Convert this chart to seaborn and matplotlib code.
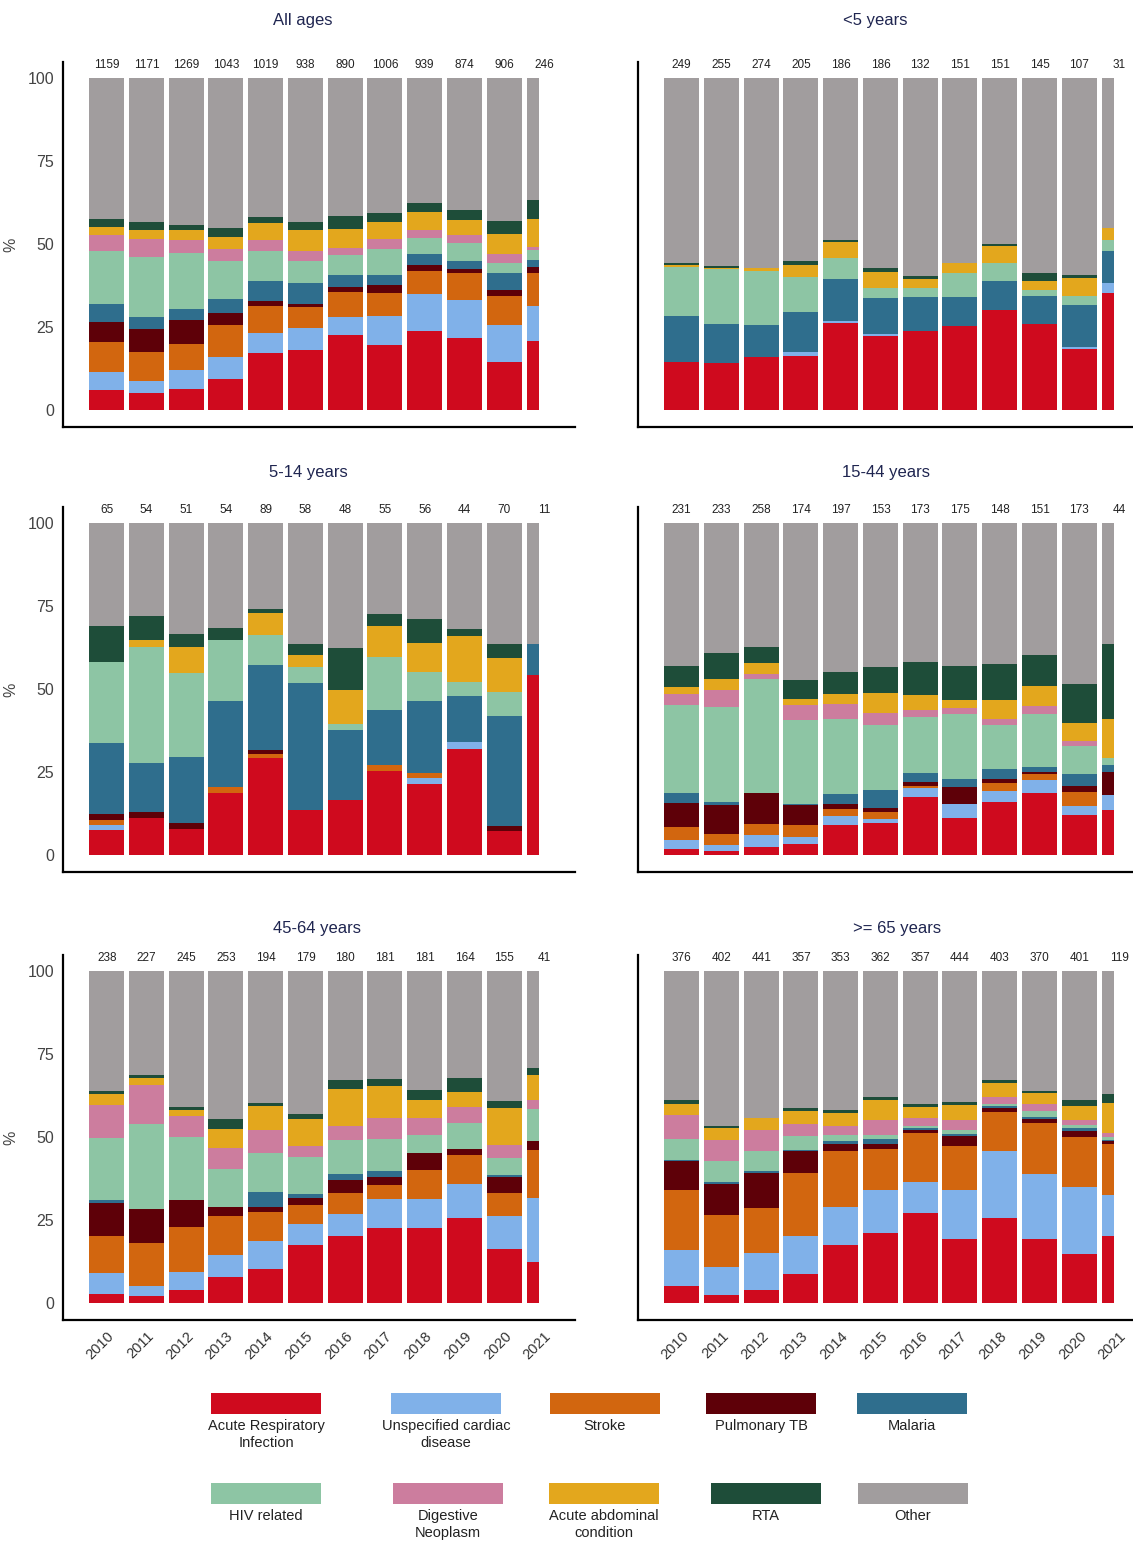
import numpy as np
import pandas as pd
import matplotlib
matplotlib.use("Agg")
import matplotlib.pyplot as plt
import seaborn as sns
from matplotlib.patches import Rectangle

# --- data: % of deaths by cause, per year, per age group ---
years = [str(y) for y in range(2010, 2022)]

causes = ["Acute Respiratory\nInfection", "Unspecified cardiac\ndisease", "Stroke",
          "Pulmonary TB", "Malaria", "HIV related", "Digestive\nNeoplasm",
          "Acute abdominal\ncondition", "RTA", "Other"]
colors = ["#cf0a1e", "#80b1e9", "#d2660f", "#5e0008", "#2f6e8d",
          "#8dc5a4", "#cc7d9e", "#e3a71d", "#1e4d39", "#a19d9e"]

# rows follow `causes`, columns follow `years`
all_ages = [
    [6.0, 5.0, 6.4, 9.5, 17.3, 18.1, 22.6, 19.6, 23.8, 21.8, 14.4, 20.8],
    [5.6, 3.8, 5.7, 6.4, 5.8, 6.5, 5.5, 8.7, 11.1, 11.2, 11.1, 10.6],
    [8.8, 8.6, 7.8, 9.7, 8.3, 6.4, 7.4, 6.9, 7.1, 8.2, 8.7, 9.8],
    [6.2, 6.9, 7.2, 3.7, 1.3, 1.0, 1.5, 2.5, 1.7, 1.2, 2.0, 1.8],
    [5.3, 3.8, 3.3, 4.2, 6.2, 6.2, 3.7, 3.0, 3.3, 2.5, 5.0, 2.2],
    [16.0, 17.9, 17.0, 11.5, 9.1, 6.7, 6.0, 7.8, 4.8, 5.4, 3.2, 3.0],
    [4.9, 5.6, 3.9, 3.4, 3.2, 3.1, 2.0, 3.0, 2.3, 2.3, 2.5, 1.0],
    [2.3, 2.5, 2.8, 3.7, 5.0, 6.1, 5.9, 5.2, 5.4, 4.5, 6.1, 8.3],
    [2.5, 2.4, 1.5, 2.7, 1.9, 2.4, 3.7, 2.6, 2.8, 3.2, 3.8, 5.8],
    [42.4, 43.5, 44.4, 45.2, 41.9, 43.5, 41.7, 40.7, 37.7, 39.7, 43.2, 36.7],
]
under5 = [
    [14.6, 14.3, 16.1, 16.3, 26.3, 22.3, 23.8, 25.3, 30.2, 25.8, 18.3, 35.2],
    [0, 0, 0, 1.1, 0.5, 0.5, 0, 0, 0, 0, 0.8, 3.2],
    [0, 0, 0, 0, 0, 0, 0, 0, 0, 0, 0, 0],
    [0, 0, 0, 0, 0, 0, 0, 0, 0, 0, 0, 0],
    [13.8, 11.6, 9.5, 12.0, 12.6, 10.8, 10.1, 8.7, 8.6, 8.4, 12.4, 9.6],
    [14.8, 16.5, 16.3, 10.8, 6.3, 3.1, 2.8, 7.2, 5.4, 2.0, 2.7, 3.3],
    [0, 0, 0, 0, 0, 0, 0, 0, 0, 0, 0, 0],
    [0.4, 0.3, 1.0, 3.4, 4.9, 5.0, 2.9, 3.2, 5.2, 2.8, 5.7, 3.4],
    [0.6, 0.7, 0, 1.4, 0.6, 1.0, 0.9, 0, 0.7, 2.2, 0.8, 0],
    [55.8, 56.6, 57.1, 55.0, 48.8, 57.3, 59.5, 55.6, 49.9, 58.8, 59.3, 45.3],
]
age5_14 = [
    [7.5, 11.2, 7.7, 18.6, 29.1, 13.5, 16.5, 25.4, 21.4, 31.8, 7.3, 54.2],
    [1.5, 0, 0, 0, 0, 0, 0, 0, 1.7, 2.3, 0, 0],
    [1.5, 0, 0, 1.8, 1.2, 0, 0, 1.7, 1.7, 0, 0, 0],
    [1.8, 1.8, 2.1, 0, 1.3, 0, 0, 0, 0, 0, 1.4, 0],
    [21.5, 14.8, 19.8, 25.9, 25.6, 38.2, 21.1, 16.5, 21.6, 13.7, 33.2, 9.2],
    [24.4, 34.9, 25.3, 18.4, 9.0, 5.0, 2.0, 16.1, 8.8, 4.2, 7.2, 0],
    [0, 0, 0, 0, 0, 0, 0, 0, 0, 0, 0, 0],
    [0, 2.0, 7.8, 0, 6.7, 3.5, 10.2, 9.3, 8.8, 13.9, 10.3, 0],
    [10.8, 7.3, 3.8, 3.7, 1.1, 3.3, 12.6, 3.5, 7.2, 2.1, 4.1, 0],
    [31.0, 28.0, 33.5, 31.6, 26.0, 36.5, 37.6, 27.5, 28.8, 32.0, 36.5, 36.6],
]
age15_44 = [
    [1.7, 1.2, 2.5, 3.3, 9.0, 9.7, 17.4, 11.3, 16.0, 18.6, 12.0, 13.5],
    [2.8, 1.7, 3.5, 2.2, 2.7, 1.3, 2.7, 4.0, 3.4, 4.0, 2.7, 4.6],
    [4.0, 3.3, 3.5, 3.5, 2.3, 2.0, 0.7, 0, 2.2, 1.7, 4.4, 0],
    [7.3, 8.8, 9.1, 6.0, 1.5, 1.2, 1.1, 5.3, 1.4, 0.8, 1.7, 6.8],
    [2.8, 1.0, 0, 0.3, 2.9, 5.4, 2.9, 2.2, 2.8, 1.5, 3.5, 2.2],
    [26.7, 28.6, 34.3, 25.5, 22.7, 19.5, 16.8, 19.6, 13.3, 15.8, 8.5, 2.2],
    [3.2, 5.2, 1.5, 4.5, 4.5, 3.7, 2.2, 2.0, 2.0, 2.5, 1.6, 0],
    [2.0, 3.2, 3.3, 1.8, 3.0, 6.0, 4.5, 2.4, 5.5, 6.0, 5.5, 11.6],
    [6.5, 7.7, 5.0, 5.6, 6.6, 7.9, 9.9, 10.2, 10.8, 9.3, 11.5, 22.5],
    [43.0, 39.3, 37.3, 47.3, 44.8, 43.3, 41.8, 43.0, 42.6, 39.8, 48.6, 36.6],
]
age45_64 = [
    [2.8, 2.0, 4.0, 7.8, 10.3, 17.4, 20.1, 22.7, 22.7, 25.7, 16.4, 12.3],
    [6.3, 3.1, 5.3, 6.8, 8.3, 6.5, 6.6, 8.5, 8.5, 10.0, 9.8, 19.3],
    [11.0, 13.0, 13.6, 11.6, 8.8, 5.5, 6.5, 4.4, 9.0, 8.8, 7.0, 14.6],
    [10.0, 10.3, 8.2, 2.7, 1.5, 2.3, 4.0, 2.4, 5.1, 1.8, 4.8, 2.6],
    [0.8, 0, 0, 0, 4.5, 1.0, 1.6, 1.7, 0, 0, 0.5, 0],
    [18.8, 25.6, 18.9, 11.6, 11.8, 11.3, 10.2, 9.8, 5.4, 7.9, 5.3, 9.7],
    [9.8, 11.6, 6.3, 6.3, 6.8, 3.3, 4.3, 6.2, 5.0, 4.8, 3.7, 2.5],
    [3.4, 2.3, 1.9, 5.7, 7.3, 8.0, 11.3, 9.6, 5.5, 4.4, 11.3, 7.6],
    [0.9, 0.9, 0.8, 3.0, 0.9, 1.7, 2.7, 2.1, 2.9, 4.4, 1.9, 2.2],
    [36.2, 31.2, 41.0, 44.5, 39.8, 43.0, 32.7, 32.6, 35.9, 32.2, 39.3, 29.2],
]
age65_plus = [
    [5.0, 2.5, 4.0, 8.6, 17.6, 21.2, 27.2, 19.4, 25.7, 19.2, 14.9, 20.2],
    [10.9, 8.3, 11.2, 11.6, 11.3, 12.9, 9.2, 14.7, 20.1, 19.8, 20.1, 12.2],
    [18.2, 15.6, 13.4, 19.1, 16.9, 12.4, 14.8, 13.2, 11.7, 15.2, 15.0, 15.4],
    [8.7, 9.5, 10.7, 6.5, 2.2, 1.3, 0.8, 3.0, 1.3, 1.3, 1.8, 0.9],
    [0.4, 0.5, 0.5, 0.4, 0.8, 1.5, 0.8, 0.5, 0.4, 0.5, 0.9, 0.5],
    [6.3, 6.4, 6.0, 4.1, 1.7, 1.2, 0.5, 1.2, 0.6, 1.8, 0.8, 0.8],
    [7.0, 6.2, 6.4, 3.7, 2.8, 4.5, 2.5, 3.0, 2.2, 2.0, 1.5, 1.2],
    [3.5, 3.7, 3.5, 3.7, 4.0, 6.2, 3.2, 4.7, 4.3, 3.3, 4.3, 9.1],
    [1.0, 0.7, 0, 1.0, 0.7, 0.8, 1.0, 0.8, 0.8, 0.7, 1.7, 2.7],
    [39.0, 46.6, 44.3, 41.3, 42.0, 38.0, 40.0, 39.5, 32.9, 36.2, 39.0, 37.0],
]

counts_all = [1159, 1171, 1269, 1043, 1019, 938, 890, 1006, 939, 874, 906, 246]
counts_u5 = [249, 255, 274, 205, 186, 186, 132, 151, 151, 145, 107, 31]
counts_5_14 = [65, 54, 51, 54, 89, 58, 48, 55, 56, 44, 70, 11]
counts_15_44 = [231, 233, 258, 174, 197, 153, 173, 175, 148, 151, 173, 44]
counts_45_64 = [238, 227, 245, 253, 194, 179, 180, 181, 181, 164, 155, 41]
counts_65 = [376, 402, 441, 357, 353, 362, 357, 444, 403, 370, 401, 119]

panels = [
    ("All ages", all_ages, counts_all),
    ("<5 years", under5, counts_u5),
    ("5-14 years", age5_14, counts_5_14),
    ("15-44 years", age15_44, counts_15_44),
    ("45-64 years", age45_64, counts_45_64),
    (">= 65 years", age65_plus, counts_65),
]

# --- style ---
sns.set_theme(style="white")
plt.rcParams["font.family"] = ["Liberation Sans", "DejaVu Sans"]

W, H = 1133, 1541
fig = plt.figure(figsize=(W / 100, H / 100), dpi=100)

# axes boxes in pixels: left x, top y (width/height shared)
ax_w, ax_h = 512, 365
col_x = [63, 638]
row_top = [62, 507, 955]
title_pos = [(303, 20), (875, 20), (308, 473), (886, 473), (317, 929), (897, 929)]

BAR_W = 0.88
LAST_W = 0.31  # 2021 only partly covered

for k, (title, values, counts) in enumerate(panels):
    r, c = divmod(k, 2)
    left = col_x[c] / W
    bottom = 1 - (row_top[r] + ax_h) / H
    ax = fig.add_axes([left, bottom, ax_w / W, ax_h / H])

    df = pd.DataFrame(np.array(values), index=causes, columns=years)
    cum = df.cumsum(axis=0)

    # draw tallest (cumulative) layer first so lower ones sit on top
    for cause, col in zip(causes[::-1], colors[::-1]):
        sns.barplot(x=years, y=cum.loc[cause].values, color=col, saturation=1,
                    width=BAR_W, errorbar=None, ax=ax, linewidth=0)

    for p in ax.patches:
        if p.get_x() > len(years) - 1.5:
            p.set_width(LAST_W)

    for i, n in enumerate(counts):
        ax.text(i, 104.0, str(n), ha="center", va="center", fontsize=8.5,
                color="#222222", clip_on=False)

    ax.set_xlim(-1.1, 11.78)
    ax.set_ylim(-5.1, 104.8)
    ax.set_yticks([0, 25, 50, 75, 100])
    ax.set_xlabel("")
    ax.set_ylabel("")
    sns.despine(ax=ax)
    for s in ["left", "bottom"]:
        ax.spines[s].set_color("black")
        ax.spines[s].set_linewidth(1.6)
    ax.tick_params(axis="both", length=3, width=0.8, color="#444444", direction="out")

    if c == 0:
        ax.set_yticklabels(["0", "25", "50", "75", "100"], fontsize=11.5, color="#444444")
        ax.set_ylabel("%", fontsize=11.5, color="#444444")
        ax.yaxis.set_label_coords(-0.088, 0.5)
    else:
        ax.set_yticklabels([])

    if r == 2:
        ax.set_xticks(range(len(years)))
        ax.set_xticklabels(years, rotation=45, ha="right", rotation_mode="anchor",
                           fontsize=10.5, color="#333333")
    else:
        ax.set_xticklabels([])

    tx, ty = title_pos[k]
    fig.text(tx / W, 1 - ty / H, title, ha="center", va="center",
             fontsize=12, color="#1f2550")

# --- legend: swatch above its label, two rows of five ---
leg = fig.add_axes([0, 0, 1, 1], zorder=-1)
leg.set_xlim(0, W)
leg.set_ylim(H, 0)
leg.axis("off")

sw_centers = [[266, 446, 605, 761, 912], [266, 448, 604, 766, 913]]
sw_top = [1393, 1483]
sw_w, sw_h = 110, 21
for j, (cause, col) in enumerate(zip(causes, colors)):
    rr, cc = divmod(j, 5)
    cx = sw_centers[rr][cc]
    leg.add_patch(Rectangle((cx - sw_w / 2, sw_top[rr]), sw_w, sw_h,
                            facecolor=col, edgecolor="none"))
    leg.text(cx, sw_top[rr] + sw_h + 5, cause, ha="center", va="top",
             fontsize=10.5, color="#222222", linespacing=1.25)

fig.savefig("out.png", dpi=100, facecolor="white")
